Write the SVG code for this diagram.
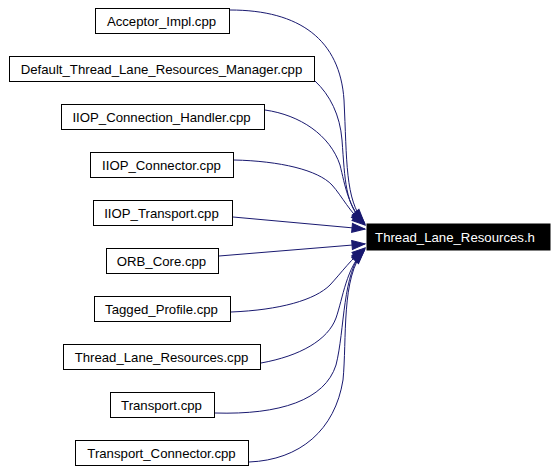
<svg xmlns="http://www.w3.org/2000/svg" width="556" height="471" viewBox="0 0 556 471">
<style>
.n rect{fill:#fff;stroke:#000;stroke-width:1}
.n text{font-family:"Liberation Sans",Arial,sans-serif;font-size:13.2px;fill:#000;text-anchor:middle}
#target rect{fill:#000;stroke:#000}
#target text{fill:#fff}
.e path{fill:none;stroke:#191970;stroke-width:1;marker-end:url(#ah)}
</style>
<defs>
<marker id="ah" markerUnits="userSpaceOnUse" markerWidth="14" markerHeight="10" refX="13" refY="4.5" orient="auto" overflow="visible">
<path d="M0,0 L13,4.5 L0,9 z" fill="#191970" stroke="#191970" stroke-width="1"/>
</marker>
</defs>
<rect width="556" height="471" fill="#fff"/>
<g class="e" id="edges">
<path d="M230,10 C300,10 340,40 344,100 C347,160 345,200 364,222"/>
<path d="M315,81 C330,95 340,115 342,140 C345,180 345,205 364,223"/>
<path d="M265,110 C300,115 330,135 340,165 C345,185 348,207 365,224"/>
<path d="M234,160 C280,161 318,170 332,185 C342,196 350,213 365,225"/>
<path d="M233,217 L365,229"/>
<path d="M219,256 L365,244"/>
<path d="M231,312 C280,310 315,300 330,285 C342,272 352,258 365,248"/>
<path d="M261,363 C300,356 328,340 336,318 C343,298 346,268 365,249"/>
<path d="M215,413 C280,415 325,400 336,365 C345,330 342,272 364,250"/>
<path d="M249,462 C300,460 335,430 343,380 C347,340 341,276 364,251"/>
</g>
<g class="n" id="n_acceptor"><rect x="95.5" y="8.5" width="134" height="25"/><text x="161.5" y="26">Acceptor_Impl.cpp</text></g>
<g class="n" id="n_default"><rect x="9.5" y="56.5" width="305" height="25"/><text x="161.5" y="74">Default_Thread_Lane_Resources_Manager.cpp</text></g>
<g class="n" id="n_iiop_ch"><rect x="61.5" y="104.5" width="203" height="25"/><text x="161.5" y="122">IIOP_Connection_Handler.cpp</text></g>
<g class="n" id="n_iiop_conn"><rect x="90.5" y="152.5" width="143" height="25"/><text x="161.5" y="170">IIOP_Connector.cpp</text></g>
<g class="n" id="n_iiop_tr"><rect x="93.5" y="200.5" width="139" height="25"/><text x="161.5" y="218">IIOP_Transport.cpp</text></g>
<g class="n" id="n_orb"><rect x="106.5" y="248.5" width="112" height="25"/><text x="161.5" y="266">ORB_Core.cpp</text></g>
<g class="n" id="n_tagged"><rect x="94.5" y="296.5" width="136" height="25"/><text x="161.5" y="314">Tagged_Profile.cpp</text></g>
<g class="n" id="n_tlr_cpp"><rect x="63.5" y="344.5" width="197" height="25"/><text x="161.5" y="362">Thread_Lane_Resources.cpp</text></g>
<g class="n" id="n_transport"><rect x="110.5" y="392.5" width="104" height="25"/><text x="161.5" y="410">Transport.cpp</text></g>
<g class="n" id="n_tc"><rect x="75.5" y="440.5" width="173" height="25"/><text x="161.5" y="458">Transport_Connector.cpp</text></g>
<g class="n" id="target"><rect x="367" y="224" width="183" height="26"/><text x="455" y="241.5">Thread_Lane_Resources.h</text></g>
</svg>
